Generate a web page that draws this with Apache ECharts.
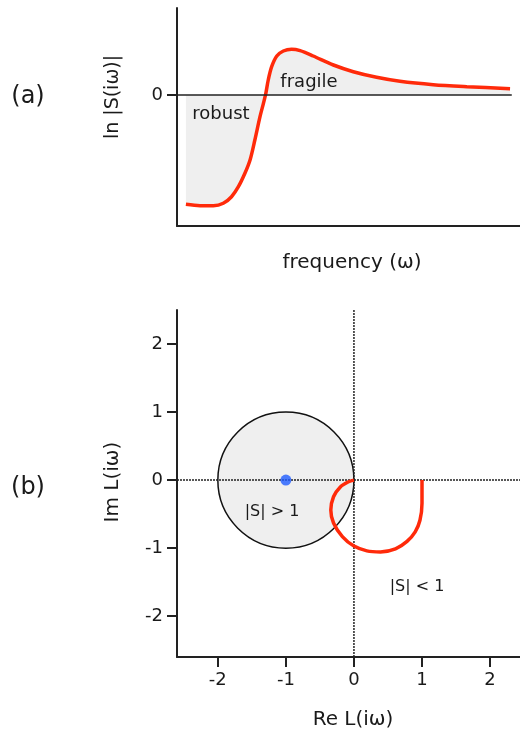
<!DOCTYPE html>
<html><head><meta charset="utf-8">
<script src="https://cdn.jsdelivr.net/npm/echarts@6/dist/echarts.min.js"></script>
<style>html,body{margin:0;padding:0;background:#fff}#c{width:520px;height:732px}</style>
</head><body><div id="c"></div>
<script>
// Panel (a): ln|S(iω)| versus frequency (arbitrary units)
const freq = [0.26,0.67,1.06,1.35,1.59,1.79,1.98,2.13,2.27,2.42,2.52,2.59,2.66,2.76,2.91,3.10,3.34,3.59,3.97,4.56,5.14,5.82,6.50,7.47,8.45,9.71];
const lnS  = [-1.093,-1.107,-1.107,-1.083,-1.017,-0.917,-0.783,-0.65,-0.45,-0.217,-0.083,0.017,0.15,0.283,0.39,0.44,0.457,0.443,0.39,0.30,0.233,0.177,0.137,0.103,0.083,0.063];
const zeroLineA = [[0,0],[9.76,0]];
// Panel (b): Nyquist plot of L(iω)
const reL = [1.0,1.0,0.97,0.90,0.78,0.61,0.39,0.19,0.0,-0.17,-0.30,-0.34,-0.30,-0.20,-0.08,0];
const imL = [0,-0.34,-0.59,-0.76,-0.90,-1.01,-1.055,-1.04,-0.97,-0.83,-0.63,-0.44,-0.245,-0.10,-0.025,0];
const circleCenter = [-1,0];
const circleRadius = 1;
const criticalPoint = [[-1,0]];
const ticksB = [-2,-1,0,1,2];
const vLine = [[0,-2.6],[0,2.5]];
const hLine = [[-2.6,0],[2.44,0]];

const FONT = 'DejaVu Sans';
const TXT = '#1a1a1a';
const chart = echarts.init(document.getElementById('c'), null, {renderer:'canvas'});
const axisLine = {show:true, onZero:false, lineStyle:{color:'#222', width:2}};
const f = (s)=> s+'px "'+FONT+'"';
const option = {
  animation:false,
  grid:[
    {left:177, top:8, width:343, height:218},
    {left:177, top:310, width:343, height:347}
  ],
  xAxis:[
    {gridIndex:0, type:'value', min:0, max:10, axisLine:axisLine, axisTick:{show:false}, axisLabel:{show:false}, splitLine:{show:false}},
    {gridIndex:1, type:'value', min:-2.6, max:2.44, axisLine:axisLine,
     axisTick:{show:true, length:10, lineStyle:{color:'#222', width:2}, customValues:ticksB},
     axisLabel:{fontSize:18, color:TXT, fontFamily:FONT, margin:14, customValues:ticksB}, splitLine:{show:false}}
  ],
  yAxis:[
    {gridIndex:0, type:'value', min:-1.31, max:0.87, axisLine:axisLine,
     axisTick:{show:true, length:10, lineStyle:{color:'#222', width:2}, customValues:[0]},
     axisLabel:{fontSize:18, color:TXT, fontFamily:FONT, margin:14, customValues:[0]}, splitLine:{show:false}},
    {gridIndex:1, type:'value', min:-2.6, max:2.5, axisLine:axisLine,
     axisTick:{show:true, length:10, lineStyle:{color:'#222', width:2}, customValues:ticksB},
     axisLabel:{fontSize:18, color:TXT, fontFamily:FONT, margin:14, customValues:ticksB}, splitLine:{show:false}}
  ],
  series:[
    {type:'line', xAxisIndex:0, yAxisIndex:0, data:freq.map((v,i)=>[v,lnS[i]]), smooth:0.3, symbol:'none',
     lineStyle:{color:'#ff2a0a', width:3.5}, areaStyle:{color:'#efefef', opacity:1, origin:0}, z:2},
    {type:'line', xAxisIndex:0, yAxisIndex:0, data:zeroLineA, symbol:'none', lineStyle:{color:'#222', width:1.5}, z:3},
    {type:'custom', xAxisIndex:1, yAxisIndex:1, data:[[circleCenter[0],circleCenter[1],circleRadius]],
     renderItem:function(params, api){
       const c = api.coord([api.value(0), api.value(1)]);
       const r = api.size([api.value(2), api.value(2)])[0];
       return {type:'circle', shape:{cx:c[0], cy:c[1], r:r}, style:{fill:'#efefef', stroke:'#111', lineWidth:1.5}};
     }, z:1},
    {type:'line', xAxisIndex:1, yAxisIndex:1, data:hLine, symbol:'none', lineStyle:{color:'#222', width:1.5, type:[2,1]}, z:3},
    {type:'line', xAxisIndex:1, yAxisIndex:1, data:vLine, symbol:'none', lineStyle:{color:'#222', width:1.5, type:[2,1]}, z:3},
    {type:'line', xAxisIndex:1, yAxisIndex:1, data:reL.map((x,i)=>[x,imL[i]]), smooth:0.3, symbol:'none',
     lineStyle:{color:'#ff2a0a', width:3.5}, z:4},
    {type:'scatter', xAxisIndex:1, yAxisIndex:1, data:criticalPoint, symbolSize:11, itemStyle:{color:'#1f5cff'}, z:5}
  ],
  graphic:[
    {type:'text', x:28, y:97, style:{text:'(a)', font:f(24), fill:TXT, align:'center', verticalAlign:'middle'}},
    {type:'text', x:28, y:488, style:{text:'(b)', font:f(24), fill:TXT, align:'center', verticalAlign:'middle'}},
    {type:'text', x:113, y:97, rotation:Math.PI/2, style:{text:'ln |S(iω)|', font:f(19), fill:TXT, align:'center', verticalAlign:'middle'}},
    {type:'text', x:352, y:263, style:{text:'frequency (ω)', font:f(20), fill:TXT, align:'center', verticalAlign:'middle'}},
    {type:'text', x:113, y:482, rotation:Math.PI/2, style:{text:'Im L(iω)', font:f(20), fill:TXT, align:'center', verticalAlign:'middle'}},
    {type:'text', x:353, y:720, style:{text:'Re L(iω)', font:f(20), fill:TXT, align:'center', verticalAlign:'middle'}},
    {type:'text', x:221, y:114, style:{text:'robust', font:f(18), fill:TXT, align:'center', verticalAlign:'middle'}, z:10},
    {type:'text', x:309, y:82, style:{text:'fragile', font:f(18), fill:TXT, align:'center', verticalAlign:'middle'}, z:10},
    {type:'text', x:272, y:512, style:{text:'|S| > 1', font:f(16), fill:TXT, align:'center', verticalAlign:'middle'}, z:10},
    {type:'text', x:417, y:587, style:{text:'|S| < 1', font:f(16), fill:TXT, align:'center', verticalAlign:'middle'}, z:10}
  ]
};
chart.setOption(option);
</script></body></html>
